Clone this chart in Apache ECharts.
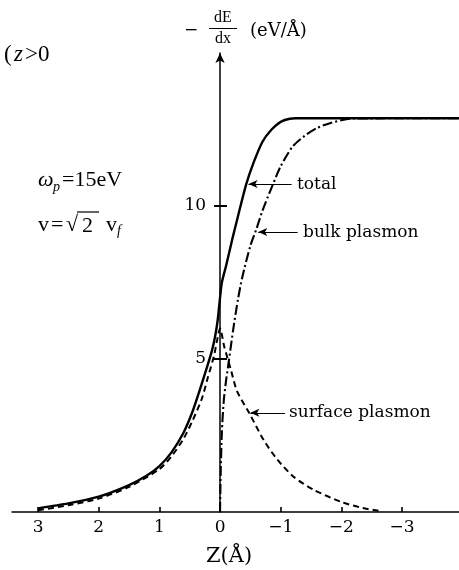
<!DOCTYPE html>
<html>
<head>
<meta charset="utf-8">
<script src="https://cdn.jsdelivr.net/npm/echarts@6/dist/echarts.min.js"></script>
<style>
  html, body { margin: 0; padding: 0; background: #fff; }
  #chart { width: 459px; height: 570px; }
</style>
</head>
<body>
<div id="chart"></div>
<script>
// Axis ticks
const zTicks = [3, 2, 1, 0, -1, -2, -3];
const eTicks = [5, 10];

// Stopping power -dE/dx (eV/Å) versus distance z (Å) from the surface
const totalZ = [3.0, 2.5, 2.0, 1.5, 1.2, 1.0, 0.8, 0.6, 0.45, 0.34, 0.22, 0.13, 0.08, 0.04, 0.0,
                -0.03, -0.1, -0.2, -0.3, -0.43, -0.55, -0.7, -0.85, -1.0, -1.15, -1.25, -3.94];
const totalE = [0.12, 0.28, 0.5, 0.88, 1.2, 1.5, 1.95, 2.6, 3.3, 3.95, 4.7, 5.3, 5.75, 6.25, 7.0,
                7.5, 8.05, 8.9, 9.7, 10.7, 11.4, 12.1, 12.5, 12.75, 12.85, 12.87, 12.87];

const bulkZ = [0.0, -0.01, -0.03, -0.06, -0.1, -0.15, -0.22, -0.3, -0.37, -0.5, -0.6, -0.7,
               -0.85, -1.0, -1.2, -1.4, -1.6, -1.8, -2.0, -2.2, -3.94];
const bulkE = [0.0, 1.2, 2.6, 3.6, 4.3, 5.0, 6.0, 7.0, 7.7, 8.7, 9.25, 9.85,
               10.6, 11.3, 11.95, 12.3, 12.55, 12.7, 12.8, 12.86, 12.87];

const surfZ = [3.0, 2.5, 2.0, 1.5, 1.0, 0.8, 0.6, 0.45, 0.3, 0.2, 0.1, 0.05, 0.0,
               -0.07, -0.18, -0.28, -0.48, -0.72, -0.95, -1.22, -1.55, -2.0, -2.35, -2.65];
const surfE = [0.06, 0.22, 0.44, 0.82, 1.4, 1.82, 2.4, 3.0, 3.7, 4.4, 5.1, 5.6, 6.0,
               5.4, 4.64, 3.95, 3.24, 2.35, 1.7, 1.14, 0.72, 0.33, 0.13, 0.03];

const pairs = (zs, es) => zs.map((z, i) => [z, es[i]]);

const SERIF = '"Liberation Serif", "DejaVu Serif", serif';
const DSERIF = '"DejaVu Serif", "Liberation Serif", serif';
const minus = v => String(v).replace('-', '\u2212');

// Plot area and axis ranges
const Z_MIN = -3.94, Z_MAX = 3.43, E_MAX = 15;
const G_LEFT = 12, G_WIDTH = 447, G_TOP = 53, G_BOTTOM = 58;
// horizontal position of z = 0, where the vertical axis is drawn
const X_ZERO = G_LEFT + G_WIDTH * Z_MAX / (Z_MAX - Z_MIN);

const chart = echarts.init(document.getElementById('chart'));

// Small pointer from a label to its curve
const pointer = (z1, z2, e) => [{ coord: [z1, e] }, { coord: [z2, e] }];

function txt(text, x, y, size, family, extra) {
  return {
    type: 'text', x: x, y: y, silent: true,
    style: Object.assign({
      text: text, fill: '#000', fontSize: size, fontFamily: family,
      align: 'left', verticalAlign: 'middle'
    }, extra || {})
  };
}

const tickStyle = { color: '#000', width: 1.6 };
const eTickStyle = { color: '#000', width: 2 };

chart.setOption({
  animation: false,
  backgroundColor: '#fff',
  grid: [
    { left: G_LEFT, width: G_WIDTH, top: G_TOP, bottom: G_BOTTOM, outerBoundsMode: 'none' },
    // zero-width strip at z = 0 carrying the vertical axis
    { left: X_ZERO, width: 0.001, top: G_TOP, bottom: G_BOTTOM, outerBoundsMode: 'none' }
  ],
  xAxis: [{
    gridIndex: 0, type: 'value', inverse: true, min: Z_MIN, max: Z_MAX,
    axisLine: { onZero: true, lineStyle: { color: '#000', width: 1.5 } },
    axisTick: { inside: true, length: 5, customValues: zTicks, lineStyle: tickStyle },
    axisLabel: {
      customValues: zTicks, formatter: v => minus(v), margin: 7,
      color: '#000', fontSize: 17, fontFamily: DSERIF
    },
    splitLine: { show: false }
  }, {
    gridIndex: 1, type: 'value', min: 0, max: 1, show: false
  }],
  yAxis: [{
    gridIndex: 0, type: 'value', min: 0, max: E_MAX, show: false
  }, {
    gridIndex: 1, type: 'value', min: 0, max: E_MAX, position: 'left',
    axisLine: { onZero: false, symbol: ['none', 'arrow'], symbolSize: [7, 10],
                lineStyle: { color: '#000', width: 1.5 } },
    axisTick: { show: true, inside: false, length: 6, customValues: eTicks, lineStyle: eTickStyle },
    axisLabel: { customValues: eTicks, margin: 14, color: '#000', fontSize: 17, fontFamily: DSERIF },
    splitLine: { show: false }
  }, {
    gridIndex: 1, type: 'value', min: 0, max: E_MAX, position: 'left',
    axisLine: { onZero: false, show: false },
    axisTick: { show: true, inside: true, length: 7, customValues: eTicks, lineStyle: eTickStyle },
    axisLabel: { show: false },
    splitLine: { show: false }
  }],
  series: [{
    name: 'total', type: 'line', data: pairs(totalZ, totalE),
    symbol: 'none', smooth: 0.25,
    lineStyle: { color: '#000', width: 2.4 },
    markLine: {
      silent: true, symbol: ['none', 'arrow'], symbolSize: [6, 9],
      lineStyle: { color: '#000', width: 1.2, type: 'solid' },
      label: { show: false },
      data: [pointer(-1.18, -0.47, 10.72), pointer(-1.28, -0.63, 9.15), pointer(-1.07, -0.5, 3.24)]
    }
  }, {
    name: 'bulk plasmon', type: 'line', data: pairs(bulkZ, bulkE),
    symbol: 'none', smooth: 0.25,
    lineStyle: { color: '#000', width: 2.1, type: [10, 3, 2, 3] }
  }, {
    name: 'surface plasmon', type: 'line', data: pairs(surfZ, surfE),
    symbol: 'none', smooth: 0.25,
    lineStyle: { color: '#000', width: 2, type: [6, 4] }
  }],
  graphic: [
    // vertical axis title: -dE/dx (eV/Å)
    txt('\u2212', 184, 31, 17, DSERIF),
    txt('dE', 223, 18, 16, SERIF, { align: 'center' }),
    { type: 'line', silent: true, shape: { x1: 209, y1: 28.5, x2: 237, y2: 28.5 },
      style: { stroke: '#000', lineWidth: 1 } },
    txt('dx', 223, 39, 16, SERIF, { align: 'center' }),
    txt('(eV/Å)', 250, 31, 18, DSERIF),
    // horizontal axis title
    txt('Z(Å)', 229, 557, 21, DSERIF, { align: 'center' }),
    // region note
    txt('(', 4, 55, 23, SERIF),
    txt('z', 14, 55, 23, SERIF, { fontStyle: 'italic' }),
    txt('>0', 25, 55, 23, SERIF),
    // parameters
    txt('\u03c9', 38, 180, 22, SERIF, { fontStyle: 'italic' }),
    txt('p', 53, 187, 14, SERIF, { fontStyle: 'italic' }),
    txt('=15eV', 62, 180, 22, SERIF),
    txt('v', 38, 225, 22, SERIF),
    txt('=', 51, 225, 22, SERIF),
    txt('\u221a', 66, 225, 22, SERIF),
    { type: 'line', silent: true, shape: { x1: 77, y1: 212, x2: 99, y2: 212 },
      style: { stroke: '#000', lineWidth: 1.2 } },
    txt('2', 82, 226, 22, SERIF),
    txt('v', 106, 225, 22, SERIF),
    txt('f', 117, 231, 14, SERIF, { fontStyle: 'italic' }),
    // curve labels
    txt('total', 297, 185, 17, DSERIF),
    txt('bulk plasmon', 303, 233, 17, DSERIF),
    txt('surface plasmon', 289, 413, 17, DSERIF)
  ]
});
</script>
</body>
</html>
